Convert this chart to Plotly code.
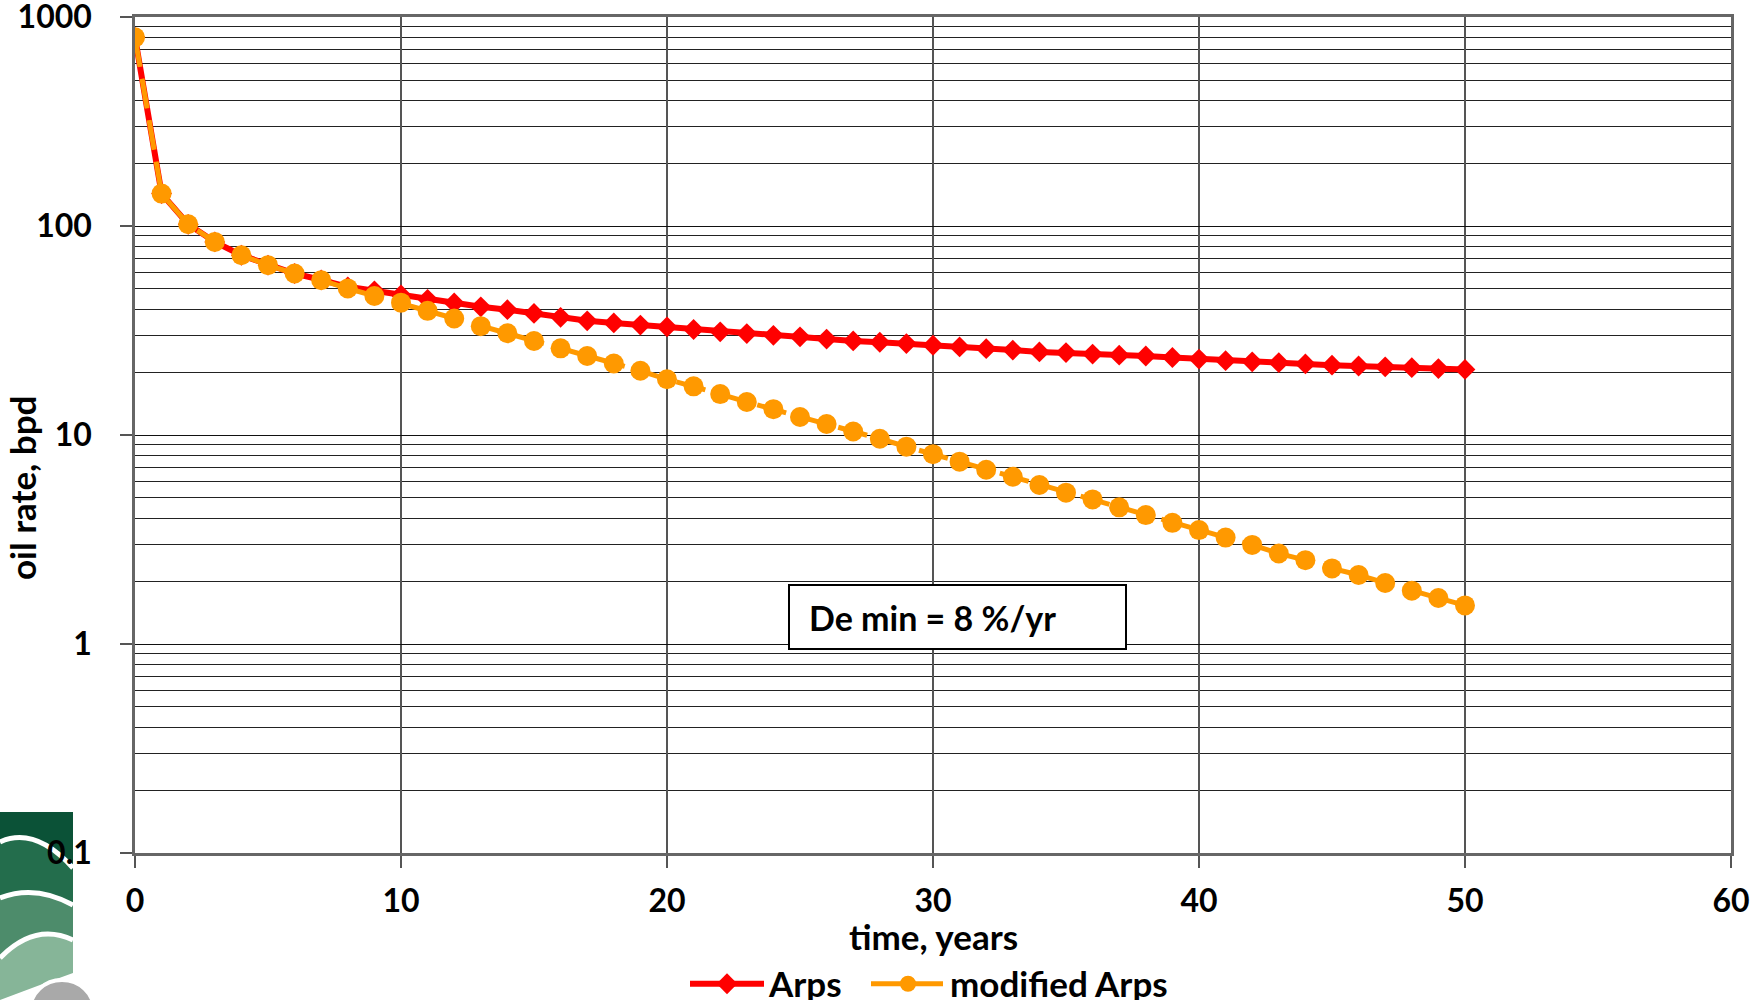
import plotly.graph_objects as go

# ---------------- data ----------------
years = list(range(0, 51))
arps = [800, 143, 102, 84, 72.5, 65, 59.3, 55.3, 51.2, 49.0, 46.8, 44.6, 42.9, 41.1, 39.8, 38.2,
        36.6, 35.2, 34.4, 33.6, 32.9, 32.0, 31.2, 30.6, 30.0, 29.5, 28.8, 28.2, 27.8, 27.4,
        26.9, 26.4, 25.9, 25.5, 25.0, 24.8, 24.4, 24.1, 23.9, 23.5, 23.1, 22.7, 22.4, 22.2,
        21.9, 21.6, 21.4, 21.2, 21.0, 20.8, 20.6]
mod_arps = [800, 143, 102, 84, 72.5, 65, 59.3, 55.1, 50.3, 46.3, 43.0, 39.3, 36.1, 33.2, 30.7,
            28.2, 26.0, 23.9, 22.0, 20.3, 18.5, 17.1, 15.7, 14.4, 13.3, 12.2, 11.3, 10.4, 9.6,
            8.8, 8.1, 7.46, 6.82, 6.32, 5.77, 5.30, 4.92, 4.51, 4.14, 3.80, 3.51, 3.23, 2.98,
            2.71, 2.52, 2.30, 2.14, 1.96, 1.80, 1.66, 1.53]
y_tickvals = [0.1, 1, 10, 100, 1000]
y_ticktext = ["0.1", "1", "10", "100", "1000"]
x_tickvals = [0, 10, 20, 30, 40, 50, 60]
series_names = ["Arps", "modified Arps"]
note_text = "De min = 8 %/yr"
x_title = "time, years"
y_title = "oil rate, bpd"

# ---------------- layout constants (page pixel coordinates) ----------------
W, H = 1752, 1000
L, R, T, B = 135, 1731, 17, 853
FONT = "Lato"


def px(x):
    return (x - L) / (R - L)


def py(y):
    return (B - y) / (B - T)


fig = go.Figure()
fig.add_trace(go.Scatter(
    x=years, y=arps, name=series_names[0], mode="lines+markers",
    line=dict(color="#ff0000", width=6),
    marker=dict(symbol="diamond", size=16, color="#ff0000"),
    legend="legend",
))
fig.add_trace(go.Scatter(
    x=years, y=mod_arps, name=series_names[1], mode="lines+markers",
    line=dict(color="#ff9900", width=5, dash="30px,12px"),
    marker=dict(symbol="circle", size=20, color="#ff9900"),
    legend="legend2",
))


def bold(size):
    return dict(family=FONT, size=size, color="black", weight="bold")


fig.update_xaxes(
    range=[0, 60], tickvals=x_tickvals, ticks="outside", ticklen=12, tickwidth=2,
    tickcolor="#555", showgrid=True, gridcolor="#555", gridwidth=1.5,
    showline=True, linecolor="#666", linewidth=2.5, mirror=True,
    tickfont=bold(32), ticklabelstandoff=6, zeroline=False,
    ticklabeloverflow="allow", automargin=False,
)
fig.update_yaxes(
    type="log", range=[-1, 3.0005], tickvals=y_tickvals, ticktext=y_ticktext,
    ticks="outside", ticklen=12, tickwidth=2, tickcolor="#555",
    showgrid=True, gridcolor="#111", gridwidth=1.4,
    minor=dict(dtick="D1", showgrid=True, gridcolor="#222", gridwidth=1.3, ticks=""),
    showline=True, linecolor="#666", linewidth=2.5, mirror=True,
    tickfont=bold(32), ticklabelstandoff=22, zeroline=False,
    ticklabeloverflow="allow", automargin=False,
)

shapes = []
# note box
shapes.append(dict(type="rect", xref="paper", yref="paper",
                   x0=px(789), x1=px(1126), y0=py(649), y1=py(585),
                   line=dict(color="black", width=2), fillcolor="white", layer="above"))


# decorative logo (bottom-left)
def P(x, y):
    return f"{px(x):.5f},{py(y):.5f}"


bands = [
    ("#0b5237", f"M{P(0,812)} L{P(73,812)} L{P(73,868)} Q{P(35,826)} {P(0,842)} Z"),
    ("#236d4c", f"M{P(0,842)} Q{P(35,826)} {P(73,868)} L{P(73,905)} Q{P(35,884)} {P(0,898)} Z"),
    ("#4d8c6b", f"M{P(0,898)} Q{P(35,884)} {P(73,905)} L{P(73,940)} Q{P(35,922)} {P(0,958)} Z"),
    ("#86b598", f"M{P(0,958)} Q{P(35,922)} {P(73,940)} L{P(73,973)} L{P(40,985)} L{P(0,1000)} Z"),
]
for col, path in bands:
    shapes.append(dict(type="path", xref="paper", yref="paper", path=path,
                       fillcolor=col, line=dict(width=0), layer="below"))
for path in [f"M{P(0,842)} Q{P(35,826)} {P(73,868)}",
             f"M{P(0,898)} Q{P(35,884)} {P(73,905)}",
             f"M{P(0,958)} Q{P(35,922)} {P(73,940)}"]:
    shapes.append(dict(type="path", xref="paper", yref="paper", path=path,
                       line=dict(color="white", width=5), layer="below"))
shapes.append(dict(type="circle", xref="paper", yref="paper",
                   x0=px(30), x1=px(94), y0=py(1040), y1=py(980),
                   fillcolor="#a9a9a9", line=dict(color="white", width=4), layer="below"))

annotations = [
    dict(xref="paper", yref="paper", x=px(807), y=py(617), xanchor="left", yanchor="middle",
         text=note_text, showarrow=False, font=bold(34)),
    dict(xref="paper", yref="paper", x=px(22), y=py(488), xanchor="center", yanchor="middle",
         text=y_title, textangle=-90, showarrow=False, font=bold(35)),
    dict(xref="paper", yref="paper", x=0.5, y=py(936), xanchor="center", yanchor="middle",
         text=x_title, showarrow=False, font=bold(35)),
]

legend_common = dict(orientation="h", yanchor="middle", y=py(984), xanchor="left",
                     font=bold(35), itemwidth=74, bgcolor="rgba(0,0,0,0)")

fig.update_layout(
    width=W, height=H,
    margin=dict(l=L, r=W - R, t=T, b=H - B, pad=0, autoexpand=False),
    paper_bgcolor="white", plot_bgcolor="white",
    font=dict(family=FONT, color="black"),
    showlegend=True,
    legend=dict(x=px(685), **legend_common),
    legend2=dict(x=px(866), **legend_common),
    shapes=shapes, annotations=annotations,
)

fig.write_html(
    "out.html",
    config={"displayModeBar": False},
    post_script="document.body.style.margin='0px';document.body.style.overflow='hidden';",
)
